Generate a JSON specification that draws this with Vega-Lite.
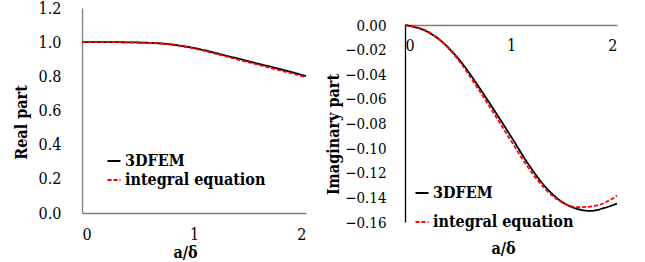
{
  "$schema": "https://vega.github.io/schema/vega-lite/v6.json",
  "padding": {"left": 13, "top": 0, "right": 0, "bottom": 0},
  "background": "white",
  "spacing": 14,
  "config": {
    "view": {"stroke": null},
    "font": "DejaVu Serif Condensed",
    "axis": {"grid": false, "ticks": false, "tickSize": 0, "labelColor": "#000", "titleColor": "#000", "labelFont": "DejaVu Serif Condensed", "titleFont": "DejaVu Serif Condensed", "titleFontWeight": "bold", "domainColor": "#7f7f7f", "domainWidth": 1.3},
    "legend": {"labelFont": "DejaVu Serif Condensed", "labelFontWeight": "bold", "labelColor": "#000", "labelLimit": 300, "symbolType": "stroke", "symbolSize": 170, "symbolStrokeWidth": 2, "padding": 0, "labelOffset": 3, "title": null}
  },
  "datasets": {
    "real": [
      {"x": 0, "v": 1.0, "s": "3DFEM"},
      {"x": 0.25, "v": 1.0, "s": "3DFEM"},
      {"x": 0.5, "v": 0.998, "s": "3DFEM"},
      {"x": 0.75, "v": 0.99, "s": "3DFEM"},
      {"x": 1.0, "v": 0.966, "s": "3DFEM"},
      {"x": 1.25, "v": 0.927, "s": "3DFEM"},
      {"x": 1.5, "v": 0.886, "s": "3DFEM"},
      {"x": 1.75, "v": 0.845, "s": "3DFEM"},
      {"x": 2.0, "v": 0.802, "s": "3DFEM"},
      {"x": 0, "v": 1.0, "s": "integral equation"},
      {"x": 0.25, "v": 1.0, "s": "integral equation"},
      {"x": 0.5, "v": 0.998, "s": "integral equation"},
      {"x": 0.75, "v": 0.989, "s": "integral equation"},
      {"x": 1.0, "v": 0.963, "s": "integral equation"},
      {"x": 1.25, "v": 0.922, "s": "integral equation"},
      {"x": 1.5, "v": 0.88, "s": "integral equation"},
      {"x": 1.75, "v": 0.838, "s": "integral equation"},
      {"x": 2.0, "v": 0.796, "s": "integral equation"}
    ],
    "imag": [
      {"x": 0, "v": 0, "s": "3DFEM"},
      {"x": 0.24, "v": -0.0068, "s": "3DFEM"},
      {"x": 0.4, "v": -0.0176, "s": "3DFEM"},
      {"x": 0.526, "v": -0.0297, "s": "3DFEM"},
      {"x": 0.683, "v": -0.0486, "s": "3DFEM"},
      {"x": 0.84, "v": -0.069, "s": "3DFEM"},
      {"x": 1.0, "v": -0.0905, "s": "3DFEM"},
      {"x": 1.156, "v": -0.112, "s": "3DFEM"},
      {"x": 1.31, "v": -0.13, "s": "3DFEM"},
      {"x": 1.47, "v": -0.143, "s": "3DFEM"},
      {"x": 1.63, "v": -0.1495, "s": "3DFEM"},
      {"x": 1.75, "v": -0.151, "s": "3DFEM"},
      {"x": 1.88, "v": -0.1486, "s": "3DFEM"},
      {"x": 2.0, "v": -0.145, "s": "3DFEM"},
      {"x": 0, "v": 0, "s": "integral equation"},
      {"x": 0.24, "v": -0.0065, "s": "integral equation"},
      {"x": 0.4, "v": -0.018, "s": "integral equation"},
      {"x": 0.526, "v": -0.031, "s": "integral equation"},
      {"x": 0.683, "v": -0.051, "s": "integral equation"},
      {"x": 0.84, "v": -0.072, "s": "integral equation"},
      {"x": 1.0, "v": -0.094, "s": "integral equation"},
      {"x": 1.156, "v": -0.115, "s": "integral equation"},
      {"x": 1.31, "v": -0.132, "s": "integral equation"},
      {"x": 1.47, "v": -0.1435, "s": "integral equation"},
      {"x": 1.63, "v": -0.148, "s": "integral equation"},
      {"x": 1.75, "v": -0.1475, "s": "integral equation"},
      {"x": 1.88, "v": -0.1445, "s": "integral equation"},
      {"x": 2.0, "v": -0.1385, "s": "integral equation"}
    ]
  },
  "hconcat": [
    {
      "width": 224,
      "height": 205,
      "data": {"name": "real"},
      "mark": {"type": "line", "interpolate": "monotone", "strokeWidth": 1.8},
      "encoding": {
        "x": {"field": "x", "type": "quantitative", "scale": {"domain": [0, 2], "nice": false},
          "axis": {"values": [0, 1, 2], "format": ".0f", "title": "a/δ", "labelFontSize": 16, "labelPadding": 13, "labelBaseline": "top", "titleFontSize": 16, "titleY": 39, "titleBaseline": "middle", "titleX": 103}},
        "y": {"field": "v", "type": "quantitative", "scale": {"domain": [0, 1.2], "nice": false, "zero": false},
          "axis": {"values": [0, 0.2, 0.4, 0.6, 0.8, 1.0, 1.2], "format": ".1f", "title": "Real part", "labelFontSize": 16, "labelPadding": 21, "titleFontSize": 16, "titleX": -61, "titleY": 114, "titleBaseline": "middle"}},
        "color": {"field": "s", "type": "nominal", "scale": {"domain": ["3DFEM", "integral equation"], "range": ["#000000", "#ff0000"]},
          "legend": {"orient": "none", "legendX": 24, "legendY": 145, "labelFontSize": 16, "rowPadding": 3}},
        "strokeDash": {"field": "s", "type": "nominal", "scale": {"domain": ["3DFEM", "integral equation"], "range": [[1, 0], [4, 2]]},
          "legend": {"orient": "none", "legendX": 24, "legendY": 145, "labelFontSize": 16, "rowPadding": 3}}
      }
    },
    {
      "width": 212,
      "height": 214,
      "data": {"name": "imag"},
      "mark": {"type": "line", "interpolate": "monotone", "strokeWidth": 1.8},
      "encoding": {
        "x": {"field": "x", "type": "quantitative", "scale": {"domain": [0, 2], "nice": false},
          "axis": {"orient": "top", "offset": -17, "values": [0, 1, 2], "format": ".0f", "title": "a/δ", "labelFontSize": 16, "labelPadding": -20, "labelBaseline": "middle", "titleFontSize": 16, "titleY": 223, "titleBaseline": "middle", "titleX": 98}},
        "y": {"field": "v", "type": "quantitative", "scale": {"domain": [-0.16, 0], "nice": false, "zero": false, "range": [214, 17]},
          "axis": {"values": [0, -0.02, -0.04, -0.06, -0.08, -0.1, -0.12, -0.14, -0.16], "format": ".2f", "title": "Imaginary part", "labelFontSize": 15, "labelPadding": 19, "titleFontSize": 16, "titleX": -72, "titleY": 126, "titleBaseline": "middle", "domainColor": "#000000"}},
        "color": {"field": "s", "type": "nominal", "scale": {"domain": ["3DFEM", "integral equation"], "range": ["#000000", "#ff0000"]},
          "legend": {"orient": "none", "legendX": 9, "legendY": 177, "labelFontSize": 16, "rowPadding": 13}},
        "strokeDash": {"field": "s", "type": "nominal", "scale": {"domain": ["3DFEM", "integral equation"], "range": [[1, 0], [4, 2]]},
          "legend": {"orient": "none", "legendX": 9, "legendY": 177, "labelFontSize": 16, "rowPadding": 13}}
      }
    }
  ],
  "resolve": {"scale": {"color": "independent", "strokeDash": "independent"}, "legend": {"color": "independent", "strokeDash": "independent"}}
}
